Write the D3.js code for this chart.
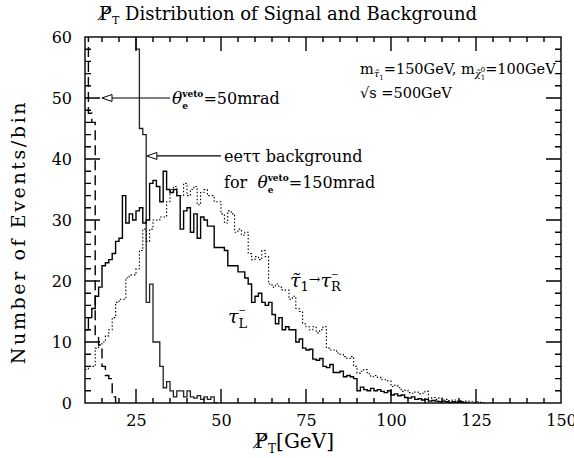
<!DOCTYPE html>
<html>
<head>
<meta charset="utf-8">
<script src="https://cdn.jsdelivr.net/npm/d3@7"></script>
<style>
body { margin: 0; background: #fff; }
</style>
</head>
<body>
<div id="chart"></div>
<script>
// events per 1 GeV bin, first bin starts at 10 GeV
var tauL = [12, 14, 15.5, 17.5, 19, 22.5, 23, 23.5, 24.5, 26.5,
    27, 34, 29.5, 31, 30, 31.5, 32, 29.5, 30, 36,
    36.5, 35.5, 33, 38, 35, 34.5, 35, 34, 28.5, 31.5,
    32, 28, 31, 27, 30.5, 30, 29, 29, 25.5, 25.5,
    25.5, 25, 22.5, 22.5, 22.5, 21.5, 21.5, 20.5, 19.5, 16.5,
    17.5, 18, 16.5, 16, 16.5, 14.5, 13, 14, 12, 12.5,
    12, 12, 10, 10.5, 9, 8.7, 8.8, 7.2, 7, 7.3,
    6, 5.8, 6.3, 5, 5, 5.2, 4.3, 4.5, 4.3, 4,
    2, 2.6, 2.2, 2, 2.4, 2, 2.2, 1.9, 1.7, 2,
    1.3, 1.5, 1.2, 1.3, 0.9, 0.8, 1, 0.6, 0.7, 0.5,
    0.6, 0.3, 0.4, 0.3, 0.2, 0.3, 0.2, 0.1, 0.2, 0.1,
    0.2, 0.1, 0];
var tauR = [5.5, 6, 6, 9, 9.5, 10, 11, 12, 14, 16.5,
    17, 17, 20.5, 21, 21, 22, 25, 28.5, 26.5, 28.5,
    30, 30, 30.5, 30.5, 33, 35, 35.5, 34, 34, 36,
    34, 35, 35.5, 32.5, 34.5, 35, 34, 34, 33, 33,
    31, 29.5, 31.5, 31, 28, 28.5, 27.5, 28, 24.5, 23.5,
    24, 23.5, 25, 24, 19.5, 19, 19.5, 19, 18.5, 18.5,
    17, 17.5, 15.5, 15, 13, 12.5, 12, 12.5, 11.5, 12,
    12.5, 9, 8.7, 8.7, 8.2, 8, 7.6, 7.3, 7.6, 6,
    4.9, 5.2, 5.5, 4.8, 4.3, 4.5, 4.2, 3.8, 3.8, 3.6,
    2.7, 2.9, 2.5, 1.9, 2.1, 1.7, 1.6, 1.8, 1.5, 1.6,
    1.9, 0.8, 0.9, 0.6, 0.8, 0.5, 0.6, 0.4, 0.5, 0.3,
    0.4, 0.2, 0.3, 0.2, 0.1, 0.2, 0.1, 0];
// eetautau background, theta_veto = 150 mrad (below 25 GeV it is off scale)
var bg150 = [75, 75, 75, 75, 75, 75, 75, 75, 75, 75,
    75, 75, 75, 75, 75, 58, 45, 44, 16.5, 19.5,
    10, 10, 6, 2.5, 3.5, 2, 1, 2, 2, 1,
    2, 1, 0.8, 1.2, 0.6, 1, 0.6, 1, 0];
// eetautau background, theta_veto = 50 mrad
var bg50 = [75, 47.5, 46, 11, 9.5, 6, 4.5, 4, 1, 0];
var binStart = 10;

var xMajor = [25, 50, 75, 100, 125, 150];
var xLong = [25, 50, 75, 100, 125];
var xMinor = d3.range(15, 150, 5);
var yMajor = [0, 10, 20, 30, 40, 50, 60];
var yLong = [10, 20, 30, 40, 50];
var yMinor = d3.range(2, 60, 2);

var W = 574, H = 458;
var pL = 85, pR = 561, pT = 37, pB = 403;
var serif = "DejaVu Serif, serif";

var svg = d3.select("#chart").append("svg")
    .attr("width", W)
    .attr("height", H);

var x = d3.scaleLinear().domain([10, 150]).range([pL, pR]);
var y = d3.scaleLinear().domain([0, 60]).range([pB, pT]);

svg.append("defs").append("clipPath").attr("id", "plotclip")
    .append("rect")
    .attr("x", pL).attr("y", pT)
    .attr("width", pR - pL).attr("height", pB - pT);

// histogram outline as a step line
function stepPts(vals) {
    var pts = vals.map(function (v, i) { return [binStart + i, v]; });
    pts.push([binStart + vals.length, 0]);
    return pts;
}
var stepLine = d3.line()
    .x(function (d) { return x(d[0]); })
    .y(function (d) { return y(d[1]); })
    .curve(d3.curveStepAfter);

var plot = svg.append("g").attr("clip-path", "url(#plotclip)");

plot.append("path").attr("d", stepLine(stepPts(bg50)))
    .attr("fill", "none").attr("stroke", "#000")
    .attr("stroke-width", 1.4).attr("stroke-dasharray", "10,5");
plot.append("path").attr("d", stepLine(stepPts(bg150)))
    .attr("fill", "none").attr("stroke", "#222")
    .attr("stroke-width", 1.3);
plot.append("path").attr("d", stepLine(stepPts(tauR)))
    .attr("fill", "none").attr("stroke", "#000")
    .attr("stroke-width", 1.1).attr("stroke-dasharray", "1.5,2");
plot.append("path").attr("d", stepLine(stepPts(tauL)))
    .attr("fill", "none").attr("stroke", "#000")
    .attr("stroke-width", 1.4);

var xLab = svg.append("g").attr("transform", "translate(0," + pB + ")")
    .call(d3.axisBottom(x).tickValues(xMajor).tickSize(0).tickPadding(12));
var yLab = svg.append("g").attr("transform", "translate(" + pL + ",0)")
    .call(d3.axisLeft(y).tickValues(yMajor).tickSize(0).tickPadding(13));
xLab.select(".domain").remove();
yLab.select(".domain").remove();
xLab.selectAll("text").attr("font-family", serif).attr("font-size", 16);
yLab.selectAll("text").attr("font-family", serif).attr("font-size", 16);

// text made of pieces: sub/superscripts placed by measured widths
function rich(x0, y0, parts, anchor) {
    var g = svg.append("g");
    var cx = x0;
    parts.forEach(function (p) {
        var t = g.append("text")
            .attr("x", cx + (p.dx || 0))
            .attr("y", y0 + (p.dy || 0))
            .attr("font-family", serif)
            .attr("font-size", p.size || 15)
            .attr("fill", "#000")
            .attr("xml:space", "preserve")
            .style("white-space", "pre")
            .text(p.t);
        if (p.it) t.attr("font-style", "italic");
        if (p.bold) t.attr("font-weight", "bold");
        var w = t.node().getComputedTextLength();
        if (!p.keep) cx += w + (p.dx || 0);
    });
    if (anchor === "middle") {
        var bb = g.node().getBBox();
        g.attr("transform", "translate(" + (x0 - (bb.x + bb.width / 2)) + ",0)");
    }
    return g;
}

function arrow(x1, xTip, yy) {
    svg.append("line")
        .attr("x1", x1).attr("x2", xTip + 9)
        .attr("y1", yy).attr("y2", yy)
        .attr("stroke", "#000").attr("stroke-width", 1.2);
    svg.append("path")
        .attr("d", "M" + xTip + "," + yy + "L" + (xTip + 10) + "," + (yy - 3.5) + "L" + (xTip + 10) + "," + (yy + 3.5) + "Z")
        .attr("fill", "#fff").attr("stroke", "#000").attr("stroke-width", 1);
}

// title
rich(287, 20, [
    { t: "P\u0338", size: 19 },
    { t: "T", size: 11, dy: 4 },
    { t: " Distribution of Signal and Background", size: 18 }
], "middle");

// axis titles
rich(293, 448, [
    { t: "P\u0338", size: 20 },
    { t: "T", size: 12, dy: 5 },
    { t: "[GeV]", size: 20 }
], "middle");
svg.append("text")
    .attr("transform", "translate(25,232) rotate(-90)")
    .attr("text-anchor", "middle")
    .attr("font-family", serif)
    .attr("font-size", 19)
    .style("letter-spacing", "2.6px")
    .text("Number of Events/bin");

// parameters
rich(360, 74, [
    { t: "m", size: 14.5 },
    { t: "\u03C4\u0303", size: 10, dy: 3, it: true },
    { t: "1", size: 7, dy: 6 },
    { t: "=150GeV, m", size: 14.5 },
    { t: "\u03C7\u0303", size: 10, dy: 3, it: true },
    { t: "1", size: 7, dy: 6, keep: true },
    { t: "0", size: 7, dy: -2 },
    { t: "=100GeV", size: 14.5 }
]);
rich(360, 98, [
    { t: "\u221As =500GeV", size: 14.5 }
]);

// 50 mrad arrow + label
arrow(170, x(15), y(50));
rich(172, 104, [
    { t: "\u03B8", size: 17, it: true },
    { t: "e", size: 9, dy: 5, bold: true, keep: true },
    { t: "veto", size: 9, dy: -7, bold: true },
    { t: "=50mrad", size: 16 }
]);

// 150 mrad arrow + label
arrow(221, x(28.2), y(40.5));
rich(224, 162, [
    { t: "ee\u03C4\u03C4 background", size: 16 }
]);
rich(224, 188, [
    { t: "for  ", size: 16 },
    { t: "\u03B8", size: 17, it: true },
    { t: "e", size: 9, dy: 5, bold: true, keep: true },
    { t: "veto", size: 9, dy: -7, bold: true },
    { t: "=150mrad", size: 16 }
]);

// signal labels
rich(290, 287, [
    { t: "\u03C4\u0303", size: 19, it: true },
    { t: "1", size: 13, dy: 4 },
    { t: "\u2192", size: 14, dy: -3 },
    { t: "\u03C4", size: 19, it: true },
    { t: "\u2212", size: 9, dy: -10, keep: true },
    { t: "R", size: 13, dy: 4 }
]);
rich(228, 323, [
    { t: "\u03C4", size: 19, it: true },
    { t: "\u2212", size: 9, dy: -10, keep: true },
    { t: "L", size: 13, dy: 5 }
]);

// frame and inward ticks on all four sides, one path, drawn last
svg.append("rect")
    .attr("x", pL).attr("y", pT)
    .attr("width", pR - pL).attr("height", pB - pT)
    .attr("fill", "none").attr("stroke", "#000").attr("stroke-width", 1.4);

var tp = d3.path();
function addX(vals, len) {
    vals.forEach(function (d) {
        tp.moveTo(x(d), pB); tp.lineTo(x(d), pB - len);
        tp.moveTo(x(d), pT); tp.lineTo(x(d), pT + len);
    });
}
function addY(vals, len) {
    vals.forEach(function (d) {
        tp.moveTo(pL, y(d)); tp.lineTo(pL + len, y(d));
        tp.moveTo(pR, y(d)); tp.lineTo(pR - len, y(d));
    });
}
addX(xMinor, 5);
addX(xLong, 14);
addY(yMinor, 6);
addY(yLong, 15);
svg.append("path")
    .attr("d", tp.toString())
    .attr("fill", "none")
    .attr("stroke", "#000")
    .attr("stroke-width", 1.4);
</script>
</body>
</html>
